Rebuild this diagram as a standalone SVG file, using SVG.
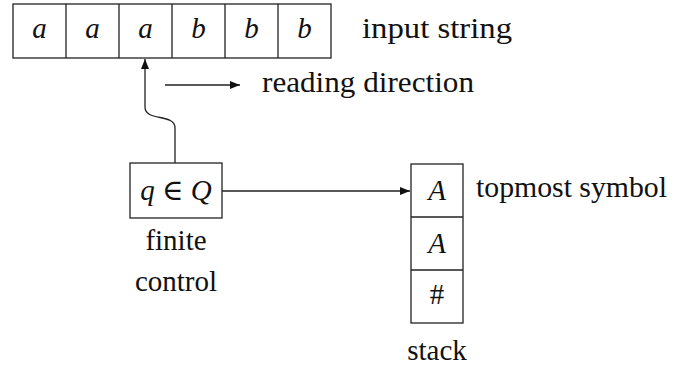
<svg xmlns="http://www.w3.org/2000/svg" width="678" height="365" viewBox="0 0 678 365">
<style>
text{font-family:"Liberation Serif","Times New Roman","DejaVu Serif","Noto Serif",Times,serif;font-size:29px;fill:#111}
.i{font-style:italic}
.box{fill:#fff;stroke:#222;stroke-width:1.3}
.c{stroke:#222;stroke-width:1.3;fill:none;marker-end:url(#ah)}
</style>
<defs>
<marker id="ah" viewBox="0 0 10 8" refX="10" refY="4" markerWidth="10" markerHeight="8" markerUnits="userSpaceOnUse" orient="auto">
<path d="M0,0 L10,4 L0,8 z" fill="#111"/>
</marker>
</defs>
<g id="tape">
<rect class="box" x="13" y="4" width="318" height="54"/>
<path d="M66,4V58M119,4V58M172,4V58M225,4V58M278,4V58" stroke="#222" stroke-width="1.3"/>
<text class="i" x="39.5" y="38" text-anchor="middle">a</text>
<text class="i" x="92.5" y="38" text-anchor="middle">a</text>
<text class="i" x="145.5" y="38" text-anchor="middle">a</text>
<text class="i" x="198.5" y="38" text-anchor="middle">b</text>
<text class="i" x="251.5" y="38" text-anchor="middle">b</text>
<text class="i" x="304.5" y="38" text-anchor="middle">b</text>
<text x="362" y="38" textLength="150" lengthAdjust="spacingAndGlyphs">input string</text>
</g>
<g id="direction">
<text x="262" y="92" textLength="212" lengthAdjust="spacingAndGlyphs">reading direction</text>
</g>
<g id="control">
<rect class="box" x="130" y="163" width="92" height="55"/>
<text x="176" y="200" text-anchor="middle"><tspan class="i">q</tspan> ∈ <tspan class="i">Q</tspan></text>
<text x="176" y="250" text-anchor="middle">finite</text>
<text x="176" y="291" text-anchor="middle">control</text>
</g>
<g id="stack">
<rect class="box" x="411" y="164" width="52" height="159"/>
<path d="M411,217H463M411,270H463" stroke="#222" stroke-width="1.3"/>
<text class="i" x="437" y="200" text-anchor="middle">A</text>
<text class="i" x="437" y="253" text-anchor="middle">A</text>
<text x="437" y="304" text-anchor="middle">#</text>
<text x="437" y="360" text-anchor="middle">stack</text>
<text x="476" y="197" textLength="191" lengthAdjust="spacingAndGlyphs">topmost symbol</text>
</g>
<g id="connectors">
<path class="c" d="M165,85H240"/>
<path class="c" d="M175,163V128C175,113 145,122 145,107V59"/>
<path class="c" d="M222,191H410"/>
</g>
</svg>
